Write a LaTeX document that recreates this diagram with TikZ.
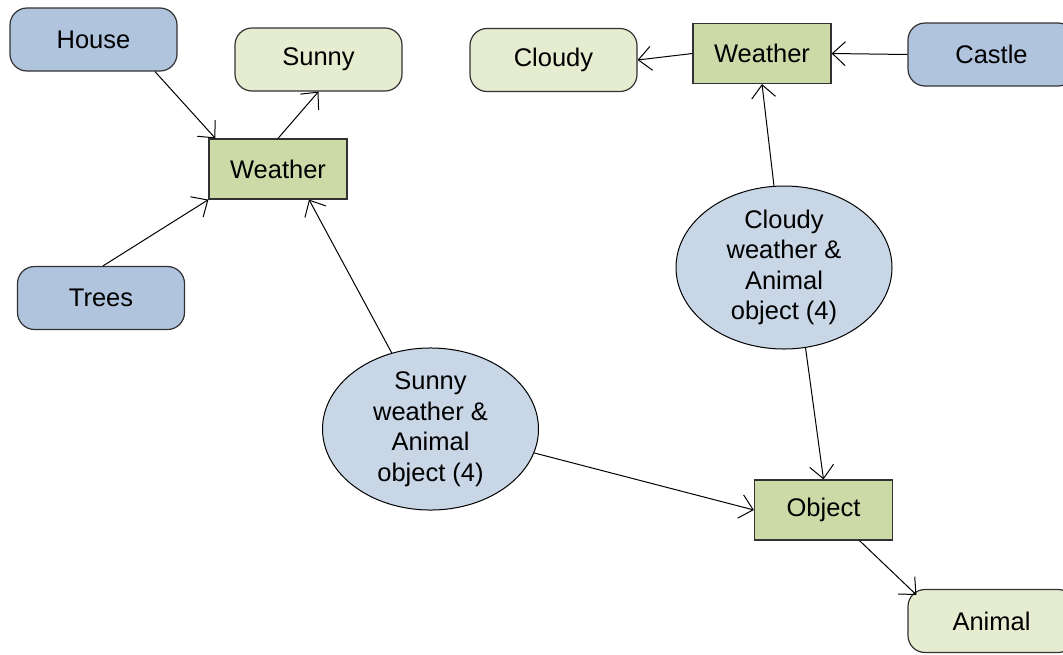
\documentclass[tikz,border=0pt]{standalone}
\usepackage{fontspec}
\setmainfont{Liberation Sans}
\usetikzlibrary{arrows.meta,shapes.geometric,calc}
\definecolor{boxblue}{RGB}{176,196,222}
\definecolor{boxyellow}{RGB}{230,236,208}
\definecolor{boxgreen}{RGB}{204,218,168}
\definecolor{ellblue}{RGB}{200,214,230}
\definecolor{edgegray}{RGB}{50,50,50}
\begin{document}
\begin{tikzpicture}[x=1pt,y=-1pt,
  every node/.style={font=\fontsize{25.5}{30.5}\selectfont, inner sep=0pt, text=black},
  rbox/.style={draw=edgegray, line width=1.2pt, rounded corners=17pt, minimum width=167pt, minimum height=63pt},
  bluebox/.style={rbox, fill=boxblue},
  yelbox/.style={rbox, fill=boxyellow},
  greenbox/.style={draw=edgegray, line width=1.2pt, fill=boxgreen, minimum width=138pt, minimum height=60pt},
  ell/.style={ellipse, draw=black, line width=1pt, fill=ellblue, minimum width=216pt, minimum height=142pt, align=center},
  conn/.style={draw=black, line width=1pt, -{Straight Barb[length=13pt,width=24pt,line width=1pt]}}
]
\useasboundingbox (0,0) rectangle (1063,654);
\clip (0,0) rectangle (1063,654);
\node[bluebox] (house) at (93.5,39.5) {House};
\node[yelbox] (sunny) at (318.5,59.5) {Sunny};
\node[greenbox] (w1) at (278,169) {Weather};
\node[bluebox] (trees) at (101,298) {Trees};
\node[yelbox] (cloudy) at (553.5,60) {Cloudy};
\node[greenbox] (w2) at (762,53.5) {Weather};
\node[bluebox] (castle) at (991.5,54.5) {Castle};
\node[ell] (sell) at (430.5,429) {Sunny\\weather \&\\Animal\\object (4)};
\node[ell] (cell) at (784,267.5) {Cloudy\\weather \&\\Animal\\object (4)};
\node[greenbox] (obj) at (823.5,510) {Object};
\node[yelbox] (animal) at (991.5,621) {Animal};

\draw[conn] ([xshift=61.5pt]house.south) -- ([xshift=7pt]w1.north west);
\draw[conn] (w1.north) -- (sunny.south);
\draw[conn] ([xshift=2pt]trees.north) -- (w1.south west);
\draw[conn] (sell.117) -- ([xshift=31pt]w1.south);
\draw[conn] (sell.-13) -- (obj.west);
\draw[conn] (cell.97) -- (w2.south);
\draw[conn] (w2.west) -- (cloudy.east);
\draw[conn] (castle.west) -- (w2.east);
\draw[conn] (cell.-75) -- (obj.north);
\draw[conn] ([xshift=36pt]obj.south) -- ([xshift=9pt,yshift=-6pt]animal.north west);
\end{tikzpicture}
\end{document}
